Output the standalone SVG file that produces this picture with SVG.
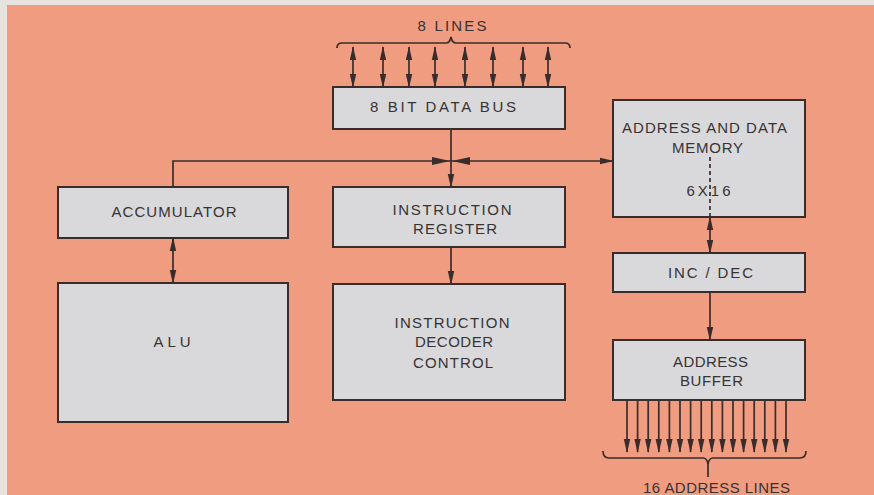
<svg xmlns="http://www.w3.org/2000/svg" width="874" height="495" viewBox="0 0 874 495">
<style>
.box{fill:#d9d9dc;stroke:#3a2c2a;stroke-width:2}
.ln{fill:none;stroke:#3a2c2a;stroke-width:1.7}
.t{font-family:"Liberation Sans",Arial,sans-serif;font-size:15px;fill:#383232;text-anchor:middle}
.ah{fill:#3a2c2a}
</style>
<defs>
<marker id="arr" viewBox="0 0 14 8" refX="13" refY="4" markerWidth="14" markerHeight="8" markerUnits="userSpaceOnUse" orient="auto-start-reverse">
<path d="M0,0.8 L14,4 L0,7.2 Z" fill="#3a2c2a"/>
</marker>
</defs>
<rect x="0" y="0" width="874" height="495" fill="#e7e4df"/>
<rect x="7" y="5" width="867" height="490" fill="#ef9c80"/>

<g id="connectors">
<!-- 8 data lines -->
<g marker-start="url(#arr)" marker-end="url(#arr)">
<line class="ln" x1="353" y1="87" x2="353" y2="47"/>
<line class="ln" x1="383" y1="87" x2="383" y2="47"/>
<line class="ln" x1="409" y1="87" x2="409" y2="47"/>
<line class="ln" x1="435" y1="87" x2="435" y2="47"/>
<line class="ln" x1="465" y1="87" x2="465" y2="47"/>
<line class="ln" x1="493" y1="87" x2="493" y2="47"/>
<line class="ln" x1="523" y1="87" x2="523" y2="47"/>
<line class="ln" x1="548" y1="87" x2="548" y2="47"/>
</g>
<!-- top brace -->
<path class="ln" d="M337,48 Q337,43 342,43 H446 Q450,43 451,37 Q452,43 456,43 H565 Q570,43 570,48"/>
<!-- data bus to instruction register -->
<path class="ln" d="M451,129 V187" marker-end="url(#arr)"/>
<!-- horizontal bus -->
<path class="ln" d="M173,187 V161 H613" marker-end="url(#arr)"/>
<path class="ah" d="M432,157 L450,161 L432,165 Z"/>
<path class="ah" d="M470,157 L452,161 L470,165 Z"/>
<!-- accumulator to ALU -->
<path class="ln" d="M173,238 V283" marker-start="url(#arr)" marker-end="url(#arr)"/>
<!-- IR to decoder -->
<path class="ln" d="M451,247 V284" marker-end="url(#arr)"/>
<!-- memory to inc/dec -->
<path class="ln" d="M710,217 V253" marker-start="url(#arr)" marker-end="url(#arr)"/>
<!-- inc/dec to buffer -->
<path class="ln" d="M710,292 V340" marker-end="url(#arr)"/>
<!-- 16 address lines -->
<g marker-end="url(#arr)">
<line class="ln" x1="627" y1="400" x2="627" y2="452"/>
<line class="ln" x1="637.6" y1="400" x2="637.6" y2="452"/>
<line class="ln" x1="648.2" y1="400" x2="648.2" y2="452"/>
<line class="ln" x1="658.8" y1="400" x2="658.8" y2="452"/>
<line class="ln" x1="669.4" y1="400" x2="669.4" y2="452"/>
<line class="ln" x1="680" y1="400" x2="680" y2="452"/>
<line class="ln" x1="690.6" y1="400" x2="690.6" y2="452"/>
<line class="ln" x1="701.2" y1="400" x2="701.2" y2="452"/>
<line class="ln" x1="711.8" y1="400" x2="711.8" y2="452"/>
<line class="ln" x1="722.4" y1="400" x2="722.4" y2="452"/>
<line class="ln" x1="733" y1="400" x2="733" y2="452"/>
<line class="ln" x1="743.6" y1="400" x2="743.6" y2="452"/>
<line class="ln" x1="754.2" y1="400" x2="754.2" y2="452"/>
<line class="ln" x1="764.8" y1="400" x2="764.8" y2="452"/>
<line class="ln" x1="775.4" y1="400" x2="775.4" y2="452"/>
<line class="ln" x1="786" y1="400" x2="786" y2="452"/>
</g>
<!-- bottom brace -->
<path class="ln" d="M603,451 Q603,458 609,458 H703 Q707,458 708,464 V477 M708,464 Q709,458 713,458 H800 Q806,458 806,451"/>
</g>

<g id="lines-label"><text class="t" x="452" y="31" textLength="69" lengthAdjust="spacing">8 LINES</text></g>

<g id="data-bus">
<rect class="box" x="333" y="87" width="232" height="42"/>
<text class="t" x="443" y="112" textLength="146" lengthAdjust="spacing">8 BIT DATA BUS</text>
</g>

<g id="accumulator">
<rect class="box" x="58" y="187" width="230" height="51"/>
<text class="t" x="174" y="217" textLength="125" lengthAdjust="spacing">ACCUMULATOR</text>
</g>

<g id="alu">
<rect class="box" x="58" y="283" width="230" height="139"/>
<text class="t" x="172" y="347" textLength="37" lengthAdjust="spacing">ALU</text>
</g>

<g id="instruction-register">
<rect class="box" x="333" y="187" width="232" height="60"/>
<text class="t" x="452" y="215" textLength="119" lengthAdjust="spacing">INSTRUCTION</text>
<text class="t" x="455" y="234" textLength="84" lengthAdjust="spacing">REGISTER</text>
</g>

<g id="instruction-decoder">
<rect class="box" x="333" y="284" width="232" height="116"/>
<text class="t" x="452" y="328" textLength="115" lengthAdjust="spacing">INSTRUCTION</text>
<text class="t" x="454" y="347" textLength="78" lengthAdjust="spacing">DECODER</text>
<text class="t" x="453" y="368" textLength="80" lengthAdjust="spacing">CONTROL</text>
</g>

<g id="memory">
<rect class="box" x="613" y="100" width="192" height="117"/>
<text class="t" x="704.5" y="133" textLength="165" lengthAdjust="spacing">ADDRESS AND DATA</text>
<text class="t" x="707.5" y="153" textLength="71" lengthAdjust="spacing">MEMORY</text>
<text class="t" x="708.5" y="196" textLength="44" lengthAdjust="spacing">6X16</text>
<path class="ln" d="M710,157 V217" stroke-dasharray="4,3" stroke-width="1.3"/>
</g>

<g id="inc-dec">
<rect class="box" x="613" y="253" width="192" height="39"/>
<text class="t" x="710.5" y="278" textLength="85" lengthAdjust="spacing">INC / DEC</text>
</g>

<g id="address-buffer">
<rect class="box" x="613" y="340" width="192" height="60"/>
<text class="t" x="710.5" y="367" textLength="75" lengthAdjust="spacing">ADDRESS</text>
<text class="t" x="711.5" y="386" textLength="63" lengthAdjust="spacing">BUFFER</text>
</g>

<g id="address-lines-label"><text class="t" x="716.5" y="493" textLength="147" lengthAdjust="spacing">16 ADDRESS LINES</text></g>
</svg>
